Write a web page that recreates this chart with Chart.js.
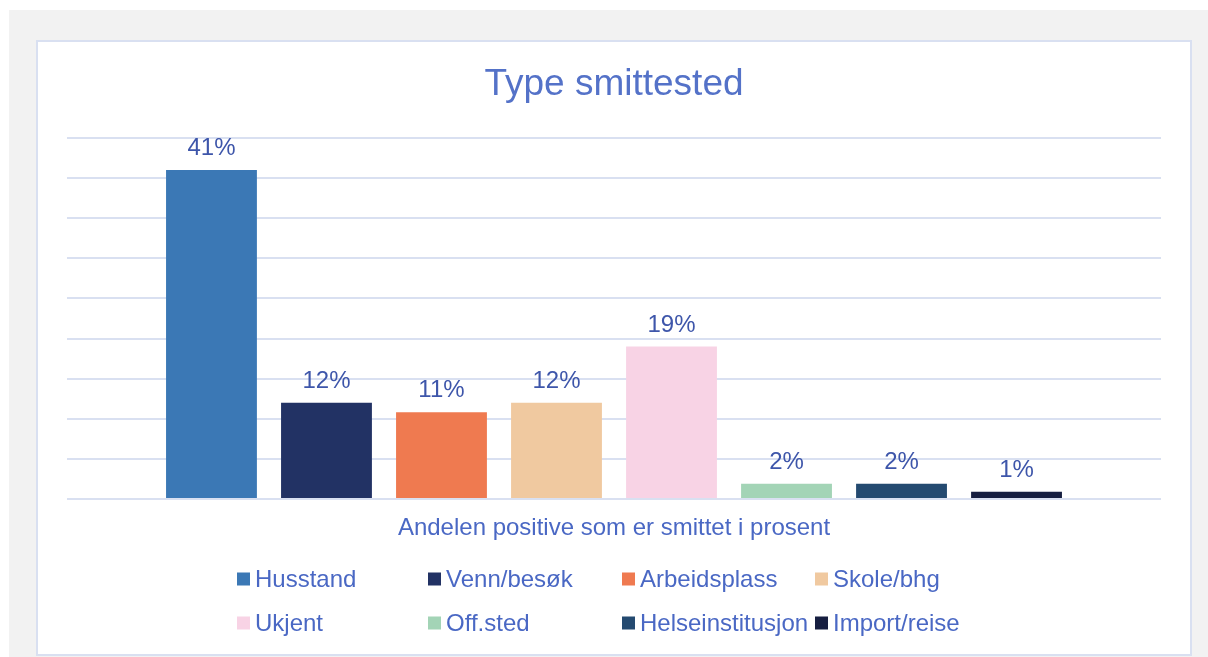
<!DOCTYPE html>
<html>
<head>
<meta charset="utf-8">
<script src="https://cdn.jsdelivr.net/npm/chart.js@4/dist/chart.umd.min.js"></script>
<style>
  html, body { margin: 0; padding: 0; background: #fff; width: 1208px; height: 657px; overflow: hidden; }
  .outer { position: absolute; left: 9px; top: 10px; right: 0; bottom: 0; background: #f2f2f2; }
  .panel { position: absolute; left: 36px; top: 40px; width: 1152px; height: 612px; background: #fff; border: 2px solid #d9e0f1; }
  #wrap { position: absolute; left: 0; top: 0; width: 1208px; height: 657px; }
</style>
</head>
<body>
<div class="outer"></div>
<div class="panel"></div>
<div id="wrap"><canvas id="smitteChart"></canvas></div>
<script>
// Data
const categories = ['Husstand', 'Venn/besøk', 'Arbeidsplass', 'Skole/bhg', 'Ukjent', 'Off.sted', 'Helseinstitusjon', 'Import/reise'];
const shares = [41, 12, 10.8, 12, 19, 1.9, 1.9, 0.9];
const colors = ['#3b78b5', '#223264', '#ef7a50', '#f0c9a0', '#f8d3e5', '#a3d4b6', '#244a70', '#161e40'];
const yTicks = [0, 5, 10, 15, 20, 25, 30, 35, 40, 45];

const font = '"Liberation Sans", Arial, sans-serif';
const textBlue = '#4a68c4';

// Value labels above bars
const valueLabels = {
    id: 'valueLabels',
    afterDatasetsDraw(chart) {
        const ctx = chart.ctx;
        ctx.save();
        ctx.font = '24px ' + font;
        ctx.fillStyle = '#3e56aa';
        ctx.textAlign = 'center';
        ctx.textBaseline = 'alphabetic';
        chart.data.datasets.forEach((ds, i) => {
            const bar = chart.getDatasetMeta(i).data[0];
            ctx.fillText(Math.round(ds.data[0]) + '%', bar.x, bar.y - 15);
        });
        ctx.restore();
    }
};

// Legend in 4 fixed columns, 2 rows
const gridLegend = {
    id: 'gridLegend',
    afterDraw(chart) {
        const ctx = chart.ctx;
        const cols = [237, 428, 622, 815];
        const rows = [579, 623];
        ctx.save();
        ctx.font = '24px ' + font;
        ctx.textBaseline = 'middle';
        ctx.textAlign = 'left';
        chart.data.datasets.forEach((ds, i) => {
            const x = cols[i % 4];
            const y = rows[Math.floor(i / 4)];
            ctx.fillStyle = ds.backgroundColor;
            ctx.fillRect(x, y - 6.5, 13, 13);
            ctx.fillStyle = textBlue;
            ctx.fillText(ds.label, x + 18, y + 1);
        });
        ctx.restore();
    }
};

new Chart(document.getElementById('smitteChart'), {
    type: 'bar',
    data: {
        labels: [''],
        datasets: categories.map((c, i) => ({
            label: c,
            data: [shares[i]],
            backgroundColor: colors[i],
            categoryPercentage: 0.841,
            barPercentage: 0.79
        }))
    },
    options: {
        responsive: true,
        maintainAspectRatio: false,
        animation: false,
        layout: { padding: { left: 67, right: 47, top: 0, bottom: 114.6 } },
        scales: {
            x: {
                grid: { display: false, drawTicks: false },
                border: { display: false },
                ticks: { display: false },
                title: {
                    display: true,
                    text: 'Andelen positive som er smittet i prosent',
                    color: textBlue,
                    font: { family: font, size: 24 },
                    padding: { top: 14.6, bottom: 0 }
                }
            },
            y: {
                min: yTicks[0],
                max: yTicks[yTicks.length - 1],
                afterBuildTicks: axis => { axis.ticks = yTicks.map(v => ({ value: v })); },
                grid: { color: '#d9e0f1', lineWidth: 2, drawTicks: false },
                border: { display: false },
                ticks: { display: false }
            }
        },
        plugins: {
            legend: { display: false },
            tooltip: { enabled: false },
            title: {
                display: true,
                text: 'Type smittested',
                color: '#5472c8',
                font: { family: font, size: 37, weight: 'normal' },
                padding: { top: 62.8, bottom: 30.8 }
            }
        }
    },
    plugins: [valueLabels, gridLegend]
});
</script>
</body>
</html>
